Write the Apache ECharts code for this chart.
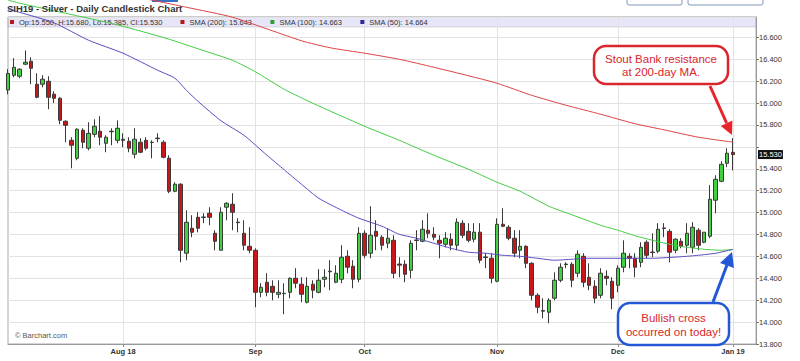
<!DOCTYPE html>
<html><head><meta charset="utf-8">
<script src="https://cdn.jsdelivr.net/npm/echarts@6/dist/echarts.min.js"></script>
<style>html,body{margin:0;padding:0;background:#fff}#c{width:800px;height:361px}</style>
</head><body><div id="c"></div>
<script>
// ---------- DATA ----------
const dates = [
'2018-07-03','2018-07-05','2018-07-06','2018-07-09','2018-07-10','2018-07-11','2018-07-12','2018-07-13','2018-07-16','2018-07-17','2018-07-18','2018-07-19','2018-07-20','2018-07-23','2018-07-24','2018-07-25','2018-07-26','2018-07-27','2018-07-30','2018-07-31',
'2018-08-01','2018-08-02','2018-08-03','2018-08-06','2018-08-07','2018-08-08','2018-08-09','2018-08-10','2018-08-13','2018-08-14','2018-08-15','2018-08-16','2018-08-17','2018-08-20','2018-08-21','2018-08-22','2018-08-23','2018-08-24','2018-08-27','2018-08-28','2018-08-29','2018-08-30','2018-08-31',
'2018-09-04','2018-09-05','2018-09-06','2018-09-07','2018-09-10','2018-09-11','2018-09-12','2018-09-13','2018-09-14','2018-09-17','2018-09-18','2018-09-19','2018-09-20','2018-09-21','2018-09-24','2018-09-25','2018-09-26','2018-09-27','2018-09-28',
'2018-10-01','2018-10-02','2018-10-03','2018-10-04','2018-10-05','2018-10-08','2018-10-09','2018-10-10','2018-10-11','2018-10-12','2018-10-15','2018-10-16','2018-10-17','2018-10-18','2018-10-19','2018-10-22','2018-10-23','2018-10-24','2018-10-25','2018-10-26','2018-10-29','2018-10-30','2018-10-31',
'2018-11-01','2018-11-02','2018-11-05','2018-11-06','2018-11-07','2018-11-08','2018-11-09','2018-11-12','2018-11-13','2018-11-14','2018-11-15','2018-11-16','2018-11-19','2018-11-20','2018-11-21','2018-11-23','2018-11-26','2018-11-27','2018-11-28','2018-11-29','2018-11-30',
'2018-12-03','2018-12-04','2018-12-05','2018-12-06','2018-12-07','2018-12-10','2018-12-11','2018-12-12','2018-12-13','2018-12-14','2018-12-17','2018-12-18','2018-12-19','2018-12-20','2018-12-21','2018-12-24','2018-12-26','2018-12-27','2018-12-28','2018-12-31',
'2019-01-02','2019-01-03','2019-01-04','2019-01-07','2019-01-08'
];
const monthLabels = ['Aug 18','Sep','Oct','Nov','Dec','Jan 19'];

const opens = [16.12,16.254,16.245,16.355,16.382,16.172,16.172,16.199,16.081,16.044,
15.834,15.66,15.496,15.752,15.588,15.715,15.743,15.633,15.743,15.66,
15.67,15.651,15.533,15.642,15.66,15.642,15.68,15.642,15.496,15.195,
15.259,14.629,14.857,14.957,14.96,14.994,14.811,14.656,15.049,15.076,
14.913,14.811,14.692,14.656,14.272,14.364,14.327,14.254,14.263,14.272,
14.40,14.346,14.181,14.346,14.272,14.391,14.465,14.364,14.391,14.601,
14.51,14.391,14.811,14.629,14.829,14.775,14.72,14.747,14.53,14.528,
14.473,14.75,14.738,14.839,14.802,14.747,14.711,14.757,14.702,14.903,
14.829,14.757,14.821,14.595,14.583,14.373,14.893,14.866,14.766,14.656,
14.692,14.537,14.245,14.105,14.09,14.218,14.382,14.53,14.528,14.446,
14.601,14.409,14.327,14.245,14.418,14.373,14.336,14.501,14.601,14.583,
14.546,14.729,14.64,14.647,14.86,14.829,14.656,14.738,14.702,14.683,
14.839,14.729,14.784,15.113,15.286,15.45,15.55];
const closes = [16.27,16.327,16.309,16.373,16.318,16.053,16.218,16.053,16.044,15.843,
15.797,15.615,15.761,15.642,15.724,15.788,15.688,15.688,15.738,15.77,
15.66,15.588,15.67,15.551,15.588,15.64,15.675,15.505,15.195,15.259,
14.656,14.912,14.82,14.857,14.955,14.957,14.738,15.003,15.085,15.003,
14.908,14.702,14.656,14.272,14.318,14.272,14.272,14.272,14.26,14.40,
14.355,14.254,14.327,14.291,14.382,14.409,14.46,14.446,14.592,14.501,
14.391,14.811,14.61,14.793,14.784,14.702,14.766,14.446,14.52,14.437,
14.72,14.745,14.848,14.811,14.775,14.72,14.766,14.702,14.912,14.793,
14.747,14.821,14.565,14.59,14.40,14.893,14.875,14.766,14.629,14.692,
14.537,14.245,14.136,14.10,14.199,14.382,14.501,14.525,14.382,14.62,
14.364,14.336,14.218,14.446,14.40,14.218,14.492,14.629,14.583,14.501,
14.683,14.61,14.635,14.848,14.855,14.638,14.757,14.692,14.811,14.866,
14.702,14.821,15.122,15.304,15.441,15.542,15.53];
const lows = [16.08,16.236,16.227,16.346,16.172,16.044,16.144,15.944,16.00,15.807,
15.642,15.405,15.478,15.588,15.569,15.688,15.615,15.551,15.615,15.633,
15.597,15.551,15.496,15.542,15.569,15.496,15.642,15.496,15.177,15.186,
14.546,14.565,14.775,14.82,14.903,14.884,14.656,14.656,14.93,14.839,
14.82,14.656,14.629,14.136,14.227,14.236,14.199,14.218,14.072,14.218,
14.309,14.181,14.172,14.218,14.263,14.318,14.291,14.355,14.355,14.446,
14.309,14.364,14.583,14.583,14.656,14.656,14.674,14.40,14.409,14.364,
14.40,14.656,14.729,14.766,14.747,14.583,14.683,14.656,14.656,14.766,
14.729,14.729,14.537,14.492,14.355,14.364,14.866,14.747,14.592,14.583,
14.492,14.199,14.081,14.035,13.99,14.199,14.364,14.492,14.318,14.409,
14.318,14.291,14.172,14.218,14.336,14.117,14.272,14.455,14.492,14.409,
14.501,14.583,14.592,14.629,14.775,14.546,14.629,14.674,14.629,14.629,
14.656,14.72,14.766,14.994,15.277,15.414,15.385];
const highs = [16.31,16.41,16.318,16.48,16.418,16.272,16.254,16.245,16.108,16.053,
15.843,15.688,15.77,15.77,15.825,15.852,15.88,15.706,15.77,15.843,
15.724,15.688,15.77,15.679,15.688,15.66,15.724,15.66,15.524,15.277,
15.268,15.021,14.976,15.003,14.994,15.049,14.839,15.049,15.094,15.177,
14.948,14.93,14.866,14.674,14.355,14.446,14.382,14.382,14.355,14.409,
14.492,14.409,14.409,14.382,14.483,14.483,14.565,14.519,14.702,14.656,
14.565,14.866,14.839,15.058,14.93,14.793,14.857,14.793,14.592,14.565,
14.747,14.839,14.93,14.994,14.866,14.793,14.821,14.811,14.948,14.93,
14.903,14.903,14.903,14.629,14.629,14.948,15.04,14.884,14.839,14.839,
14.702,14.546,14.263,14.218,14.218,14.455,14.537,14.546,14.546,14.656,
14.629,14.537,14.382,14.492,14.473,14.409,14.519,14.747,14.629,14.629,
14.729,14.747,14.811,14.903,14.903,14.848,14.766,14.766,14.903,14.912,
14.857,14.821,15.25,15.341,15.469,15.587,15.68];

// moving averages: [trading-day index, value]
const sma200 = [[23,16.962],[31,16.875],[39,16.784],[51,16.569],[56,16.505],[62,16.455],[68,16.40],[74,16.327],[80,16.25],[85,16.181],[91,16.071],[97,15.98],[103,15.898],[109,15.811],[114,15.756],[120,15.688],[126,15.643]];
const sma100 = [[0,16.94],[2,16.912],[10,16.82],[19,16.715],[28,16.583],[33,16.496],[39,16.391],[43,16.286],[48,16.126],[53,15.998],[62,15.788],[68,15.66],[74,15.524],[80,15.396],[85,15.277],[89,15.195],[94,15.058],[98,14.98],[103,14.884],[106,14.839],[109,14.788],[112,14.747],[115,14.711],[118,14.683],[121,14.665],[124,14.656],[126,14.663]];
const sma50 = [[0,16.857],[2,16.829],[8,16.733],[14,16.574],[20,16.455],[26,16.30],[29,16.227],[31,16.117],[33,16.017],[37,15.839],[41,15.706],[45,15.524],[48,15.391],[51,15.259],[54,15.131],[58,15.021],[61,14.948],[65,14.875],[68,14.802],[71,14.766],[74,14.72],[77,14.674],[80,14.638],[83,14.629],[86,14.61],[89,14.601],[92,14.583],[95,14.565],[98,14.574],[101,14.583],[106,14.583],[112,14.583],[117,14.597],[120,14.61],[123,14.629],[126,14.664]];

// ---------- BUILD ----------
const FONT = 'Liberation Sans, Arial, sans-serif';
const last = opens.length - 1;
const monthStart = {};
let k = 0;
for (let i = 1; i < dates.length; i++) {
  if (dates[i].slice(0,7) !== dates[i-1].slice(0,7)) monthStart[i] = monthLabels[k++];
}
const isStart = (i) => monthStart[i] !== undefined;
const candles = opens.map((o,i) => [o, closes[i], lows[i], highs[i]]);
const f3 = v => v.toFixed(3);
const legendText = {
  'OHLC': 'Op:' + f3(opens[last]) + ', H:' + f3(highs[last]) + ', Lo:' + f3(lows[last]) + ', Cl:' + f3(closes[last]),
  'SMA200': 'SMA (200): ' + f3(sma200[sma200.length-1][1]),
  'SMA100': 'SMA (100): ' + f3(sma100[sma100.length-1][1]),
  'SMA50': 'SMA (50): ' + f3(sma50[sma50.length-1][1])
};

const chart = echarts.init(document.getElementById('c'), null, {renderer: 'svg'});
chart.setOption({
  animation: false,
  backgroundColor: '#fff',
  textStyle: {fontFamily: FONT},
  title: {text: 'SIH19 - Silver - Daily Candlestick Chart', left: 7, top: 3, padding: 0,
    textStyle: {fontSize: 9.5, fontWeight: 'bold', color: '#333', fontFamily: FONT}},
  legend: {left: 8, top: 17, padding: [1, 2], itemWidth: 4, itemHeight: 4, itemGap: 18,
    selectedMode: false, textStyle: {fontSize: 7.5, color: '#333', fontFamily: FONT},
    formatter: n => legendText[n],
    data: [{name: 'OHLC', icon: 'path://M0,0H10V10H0Z', itemStyle: {color: '#b8161b', borderColor: '#b8161b', borderWidth: 0, opacity: 1}},
           {name: 'SMA200', icon: 'rect', itemStyle: {color: '#b8161b'}},
           {name: 'SMA100', icon: 'rect', itemStyle: {color: '#2ea02e'}},
           {name: 'SMA50', icon: 'rect', itemStyle: {color: '#2a2a9a'}}]},
  grid: {left: 8, right: 44, top: 17, bottom: 17, show: true, borderColor: '#aaa', borderWidth: 1},
  xAxis: {type: 'category', data: dates, boundaryGap: false,
    axisLine: {lineStyle: {color: '#999'}},
    axisTick: {interval: isStart, length: 3, lineStyle: {color: '#888'}},
    axisLabel: {interval: isStart, formatter: (v, i) => monthStart[i] || '', fontSize: 7.5, fontWeight: 'bold', color: '#333', margin: 3},
    splitLine: {show: true, interval: isStart, lineStyle: {color: '#e3e3e3'}}},
  yAxis: {type: 'value', position: 'right', min: 13.8, max: 16.786, interval: 0.2, scale: true,
    axisLine: {show: true, lineStyle: {color: '#999'}},
    axisTick: {show: true, length: 3, lineStyle: {color: '#777'}},
    axisLabel: {fontSize: 7.5, color: '#333', margin: 3, showMaxLabel: false,
      formatter: v => Math.abs(v - closes[last]) < 0.1 ? '' : v.toFixed(3)},
    splitLine: {lineStyle: {color: '#e3e3e3'}}},
  series: [
    {name: 'OHLC', type: 'candlestick', data: candles, barWidth: 4, clip: false, z: 3,
      itemStyle: {color: '#40d040', color0: '#c8171b', borderColor: '#3a3a3a', borderColor0: '#3a3a3a', borderWidth: 1, borderColorDoji: '#333'},
      markLine: {silent: true, symbol: ['none', 'none'], lineStyle: {color: 'rgba(0,0,0,0)', width: 1, type: 'solid'},
        label: {show: true, position: 'end', distance: 2, formatter: p => f3(p.value), color: '#fff', backgroundColor: '#111', padding: [1, 1, 0, 1], fontSize: 7.5},
        data: [{yAxis: closes[last]}]}},
    {name: 'SMA200', type: 'line', data: sma200, showSymbol: false, clip: false, smooth: 0.2, z: 4, lineStyle: {color: '#dd4444', width: 1}, itemStyle: {color: '#dd4444'}},
    {name: 'SMA100', type: 'line', data: sma100, showSymbol: false, clip: false, smooth: 0.2, z: 4, lineStyle: {color: '#44cc44', width: 1}, itemStyle: {color: '#44cc44'}},
    {name: 'SMA50', type: 'line', data: sma50, showSymbol: false, clip: false, smooth: 0.2, z: 4, lineStyle: {color: '#5a4cc4', width: 1}, itemStyle: {color: '#5a4cc4'}}
  ],
  graphic: [
    {type: 'rect', z: -1, shape: {x: 8, y: 17, width: 748, height: 10}, style: {fill: '#e6e6f8', stroke: '#bbb', lineWidth: 0.5}},
    {type: 'rect', shape: {x: 152, y: 0, width: 26, height: 2}, style: {fill: '#3a6fc4'}},
    {type: 'rect', shape: {x: 627, y: -6, width: 55, height: 11, r: 2}, style: {fill: '#fff', stroke: '#7d97b8', lineWidth: 1}},
    {type: 'rect', shape: {x: 688, y: -6, width: 75, height: 11, r: 2}, style: {fill: '#fff', stroke: '#7d97b8', lineWidth: 1}},
    {type: 'text', x: 15, y: 331, style: {text: '© Barchart.com', fontSize: 7.5, fill: '#555', fontFamily: FONT}},
    // red annotation
    {type: 'line', z: 10, shape: {x1: 710, y1: 86, x2: 726.6, y2: 123}, style: {stroke: '#e8232a', lineWidth: 3}},
    {type: 'polygon', z: 10, shape: {points: [[732, 135], [720.8, 125.9], [732.4, 120.5]]}, style: {fill: '#e8232a'}},
    {type: 'rect', z: 10, shape: {x: 594, y: 46, width: 134, height: 38, r: 12}, style: {fill: '#fff', stroke: '#d8262c', lineWidth: 2.5}},
    {type: 'text', z: 11, x: 661, y: 65, style: {text: 'Stout Bank resistance\nat 200-day MA.', fontSize: 11.5, lineHeight: 13, fill: '#d8262c', textAlign: 'center', textVerticalAlign: 'middle', fontFamily: FONT}},
    // blue annotation
    {type: 'line', z: 10, shape: {x1: 713, y1: 302, x2: 727, y2: 265}, style: {stroke: '#2457d6', lineWidth: 3}},
    {type: 'polygon', z: 10, shape: {points: [[732, 252], [734, 268], [720, 263]]}, style: {fill: '#2457d6'}},
    {type: 'rect', z: 10, shape: {x: 618, y: 303, width: 111, height: 42, r: 12}, style: {fill: '#fff', stroke: '#2457d6', lineWidth: 2.5}},
    {type: 'text', z: 11, x: 673.5, y: 325, style: {text: 'Bullish cross\noccurred on today!', fontSize: 11.5, lineHeight: 14, fill: '#d8262c', textAlign: 'center', textVerticalAlign: 'middle', fontFamily: FONT}}
  ]
});
</script></body></html>
